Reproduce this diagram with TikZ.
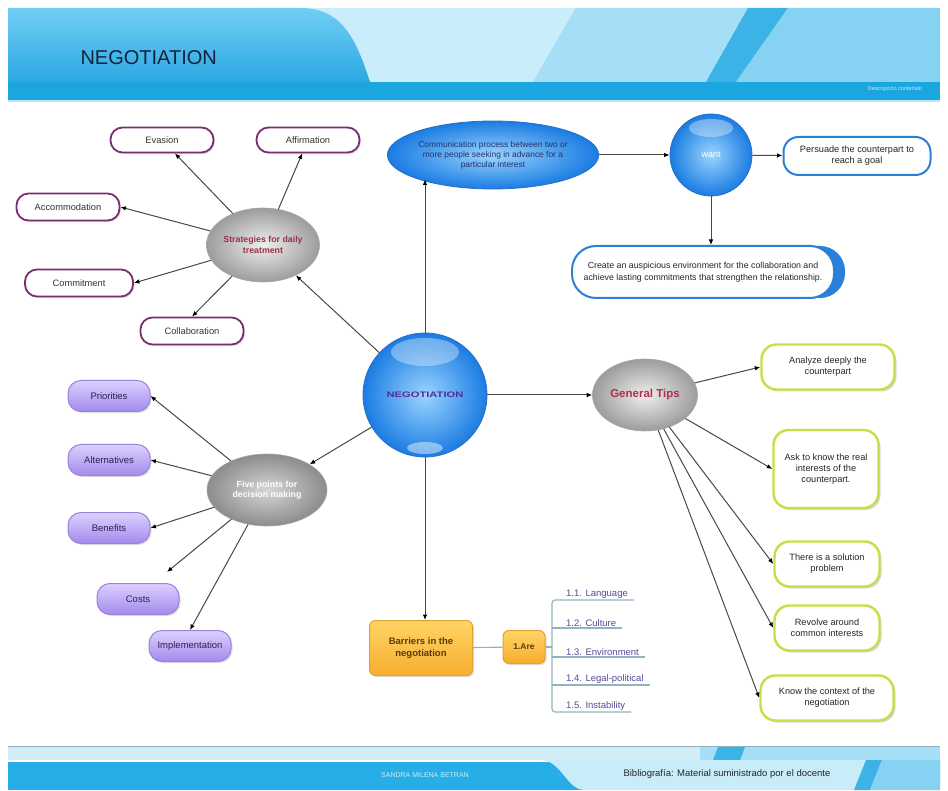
\documentclass[tikz,border=0pt]{standalone}
\usepackage{fontspec}
\usepackage{graphicx}
\setmainfont{Liberation Sans}
\usetikzlibrary{shapes.geometric,arrows.meta,shadows,calc}
\definecolor{hBase}{HTML}{8AD4F4}
\definecolor{hTabTop}{HTML}{72CEF4}
\definecolor{hTabBot}{HTML}{2AA8E2}
\definecolor{hLight}{HTML}{C9EDFA}
\definecolor{hMed}{HTML}{A5DEF6}
\definecolor{hStripe}{HTML}{3CB3E6}
\definecolor{hRight}{HTML}{86D2F3}
\definecolor{hStrip}{HTML}{1CA6E0}
\definecolor{titleC}{HTML}{14233F}
\definecolor{connC}{HTML}{484848}
\definecolor{leafP}{HTML}{7B2D72}
\definecolor{ballIn}{HTML}{9AD4FF}
\definecolor{ballOut}{HTML}{1A7CE2}
\definecolor{ballEdge}{HTML}{2A6FC8}
\definecolor{boxBlue}{HTML}{2A80D8}
\definecolor{grayIn}{HTML}{EFEFEF}
\definecolor{grayOut}{HTML}{9C9C9C}
\definecolor{grayIn2}{HTML}{D6D6D6}
\definecolor{grayOut2}{HTML}{8C8C8C}
\definecolor{stratTxt}{HTML}{9B3346}
\definecolor{tipsTxt}{HTML}{B0304E}
\definecolor{purTop}{HTML}{DCD0FF}
\definecolor{purBot}{HTML}{A38AEC}
\definecolor{purEdge}{HTML}{9A82DC}
\definecolor{purTxt}{HTML}{2A2250}
\definecolor{greenE}{HTML}{C6DF48}
\definecolor{orTop}{HTML}{FFD466}
\definecolor{orBot}{HTML}{F6AE2E}
\definecolor{orEdge}{HTML}{E2A232}
\definecolor{orTxt}{HTML}{5C3A0A}
\definecolor{branchC}{HTML}{8FB4C0}
\definecolor{itemTxt}{HTML}{5A4A9A}
\definecolor{fLight}{HTML}{D3ECF6}
\definecolor{fBlue}{HTML}{27AEE6}
\definecolor{fPanel}{HTML}{C9ECF9}
\definecolor{negTxt}{HTML}{5A2A9A}
\definecolor{commTxt}{HTML}{22336A}
\tikzset{
  conn/.style={draw=connC, line width=1pt, -{Latex[length=5.5pt,width=4.6pt,color=black]}},
  stratleaf/.style={rounded corners=12pt, draw=leafP, line width=1.8pt, fill=white,
    minimum width=103pt, minimum height=25pt, inner sep=1pt,
    font=\fontsize{9.3}{10}\selectfont, text=black!80,
    drop shadow={opacity=0.25, shadow xshift=1.5pt, shadow yshift=-1.5pt}},
  pleaf/.style={rounded corners=13pt, top color=purTop, bottom color=purBot, draw=purEdge,
    line width=1pt, minimum width=82pt, minimum height=31pt, inner sep=1pt,
    font=\fontsize{9.5}{10}\selectfont, text=purTxt,
    drop shadow={opacity=0.25, shadow xshift=1.5pt, shadow yshift=-1.5pt}},
  gleaf/.style={rounded corners=15pt, draw=greenE, line width=2.4pt, fill=white,
    minimum width=105pt, minimum height=45pt, inner sep=2pt, align=center,
    font=\fontsize{9.2}{11}\selectfont, text=black!85,
    drop shadow={opacity=0.3, shadow xshift=2pt, shadow yshift=-2pt}},
  ballnode/.style={circle, inner color=ballIn, outer color=ballOut, draw=ballEdge, line width=0.8pt},
  grayell/.style={ellipse, inner color=grayIn, outer color=grayOut, draw=gray!70, line width=0.6pt,
    align=center, inner sep=0pt},
  bluebox/.style={rounded corners=16pt, draw=boxBlue, line width=2pt, fill=white, align=center,
    font=\fontsize{9.2}{11}\selectfont, text=black!85},
  orbox/.style={rounded corners=6pt, top color=orTop, bottom color=orBot, draw=orEdge,
    line width=1pt, align=center, text=orTxt, font=\bfseries\fontsize{9.5}{12}\selectfont,
    drop shadow={opacity=0.25, shadow xshift=1.5pt, shadow yshift=-1.5pt}},
  branch/.style={draw=branchC, line width=1.1pt},
  itemtext/.style={font=\fontsize{9.5}{10}\selectfont, text=itemTxt, inner sep=1pt, anchor=south west}
}
\begin{document}
\begin{tikzpicture}[x=1pt,y=-1pt]
\useasboundingbox (0,0) rectangle (948,791);
\fill[white] (0,0) rectangle (948,791);
% ---------- header ----------
\fill[hBase] (8,8) rectangle (940,82);
\fill[hLight] (250,8) -- (576,8) -- (533,82) -- (250,82) -- cycle;
\fill[hMed] (576,8) -- (748,8) -- (706,82) -- (533,82) -- cycle;
\fill[hStripe] (748,8) -- (788,8) -- (736,82) -- (706,82) -- cycle;
\fill[hRight] (788,8) -- (940,8) -- (940,82) -- (736,82) -- cycle;
\shade[top color=hTabTop, bottom color=hTabBot] (8,8) -- (300,8) .. controls (340,8) and (355,35) .. (370,82) -- (8,82) -- cycle;
\fill[hStrip] (8,82) rectangle (940,100);
\fill[white!70!hStrip] (8,100) rectangle (940,102);
\node[anchor=west, font=\fontsize{20}{21}\selectfont, text=titleC] (title) at (77,58) {NEGOTIATION};
\node[font=\fontsize{5.5}{6}\selectfont, text=hLight] (desc) at (895,89) {Descripción contenido};
% ---------- footer ----------
\fill[fLight] (8,746) rectangle (940,760);
\draw[branchC, line width=0.8pt] (8,746) -- (940,746);
\fill[fBlue] (8,762) rectangle (940,790);
\fill[hMed] (700,747) rectangle (940,760);
\fill[hStripe] (718,747) -- (745,747) -- (740,760) -- (713,760) -- cycle;
\fill[fPanel] (540,760) .. controls (562,760) and (566,790) .. (585,790) -- (940,790) -- (940,760) -- cycle;
\fill[hStripe] (866,760) -- (882,760) -- (870,790) -- (854,790) -- cycle;
\fill[hRight] (882,760) -- (940,760) -- (940,790) -- (870,790) -- cycle;
\node[font=\fontsize{7}{8}\selectfont, text=hLight] (author) at (425,775) {SANDRA MILENA BETRAN};
\node[anchor=west, font=\fontsize{9.5}{10}\selectfont, text=black!85] (biblio) at (620,774) {Bibliografía: Material suministrado por el docente};
% ---------- central ----------
\node[ballnode, minimum size=124pt] (neg) at (425,395) {\scalebox{1.4}[1]{\bfseries\fontsize{8}{9}\selectfont\color{negTxt}NEGOTIATION}};
\fill[white, opacity=0.35] (425,352) ellipse (34pt and 14pt);
\fill[white, opacity=0.45] (425,448) ellipse (18pt and 6pt);
% ---------- top branch ----------
\node[ellipse, inner color=ballIn, outer color=ballOut, draw=ballEdge, line width=0.8pt,
  minimum width=176pt, minimum height=68pt, inner sep=0pt, align=center,
  font=\fontsize{8.4}{10}\selectfont, text=commTxt] (comm) at (493,155)
  {Communication process between two or\\ more people seeking in advance for a\\ particular interest};
\node[ballnode, minimum size=82pt, font=\fontsize{9}{10}\selectfont, text=white] (want) at (711,155) {want};
\fill[white, opacity=0.35] (711,128) ellipse (22pt and 9pt);
\node[bluebox, minimum width=147pt, minimum height=38pt, rounded corners=15pt] (pers) at (857,156)
  {Persuade the counterpart to\\ reach a goal};
\fill[boxBlue, rounded corners=25pt] (580,246) rectangle (845,298);
\node[bluebox, minimum width=262pt, minimum height=52pt, rounded corners=24pt,
  font=\fontsize{8.8}{12}\selectfont] (create) at (703,272)
  {Create an auspicious environment for the collaboration and\\ achieve lasting commitments that strengthen the relationship.};
% ---------- strategies ----------
\node[grayell, minimum width=113pt, minimum height=74pt, font=\bfseries\fontsize{8.8}{10.5}\selectfont, text=stratTxt]
  (strat) at (263,245) {Strategies for daily\\ treatment};
\node[stratleaf] (evas) at (162,140) {Evasion};
\node[stratleaf] (affi) at (308,140) {Affirmation};
\node[stratleaf, minimum height=27pt] (acco) at (68,207) {Accommodation};
\node[stratleaf, minimum width=108pt, minimum height=27pt] (comt) at (79,283) {Commitment};
\node[stratleaf, minimum height=27pt] (coll) at (192,331) {Collaboration};
% ---------- five points ----------
\node[grayell, inner color=grayIn2, outer color=grayOut2, minimum width=120pt, minimum height=72pt,
  font=\bfseries\fontsize{8.8}{10.5}\selectfont, text=white] (five) at (267,490) {Five points for\\ decision making};
\node[pleaf] (prio) at (109,396) {Priorities};
\node[pleaf] (alte) at (109,460) {Alternatives};
\node[pleaf] (bene) at (109,528) {Benefits};
\node[pleaf] (cost) at (138,599) {Costs};
\node[pleaf] (impl) at (190,646) {Implementation};
\coordinate (costend) at (167,572);
% ---------- general tips ----------
\node[grayell, minimum width=105pt, minimum height=72pt, font=\bfseries\fontsize{11.5}{12}\selectfont, text=tipsTxt]
  (tips) at (645,395) {General Tips};
\node[gleaf, minimum width=133pt] (anal) at (828,367) {Analyze deeply the\\ counterpart};
\node[gleaf, minimum height=78pt] (ask) at (826,469) {Ask to know the real\\ interests of the\\ counterpart.};
\node[gleaf] (there) at (827,564) {There is a solution\\ problem};
\node[gleaf] (revo) at (827,628) {Revolve around\\ common interests};
\node[gleaf, minimum width=133pt] (know) at (827,698) {Know the context of the\\ negotiation};
% ---------- barriers ----------
\node[orbox, minimum width=103pt, minimum height=55pt] (barr) at (421,648) {Barriers in the\\ negotiation};
\node[orbox, minimum width=42pt, minimum height=33pt, inner sep=1pt, font=\bfseries\fontsize{8.5}{10}\selectfont] (are) at (524,647) {1.Are};
\node[itemtext] (i1) at (565,600) {1.1. Language};
\node[itemtext] (i2) at (565,628) {1.2. Culture};
\node[itemtext] (i3) at (565,657) {1.3. Environment};
\node[itemtext] (i4) at (565,685) {1.4. Legal-political};
\node[itemtext] (i5) at (565,712) {1.5. Instability};
\coordinate (spine) at (552,647);
\draw[branch] (barr) -- (are);
\draw[branch] (are.east) -- (spine);
\draw[branch, rounded corners=3pt] ($(i1.south east)+(5,0)$) -- (spine |- i1.south) -- (spine |- i5.south) -- ($(i5.south east)+(5,0)$);
\foreach \n in {i2,i3,i4}{\draw[branch] (spine |- \n.south) -- ($(\n.south east)+(5,0)$);}
% ---------- connectors ----------
\draw[conn] (neg.north) -- ($(comm.south -| neg.north)+(0,-10)$);
\draw[conn] (comm) -- (want);
\draw[conn] (want) -- (pers);
\draw[conn] (want.south) -- (want.south |- create.north);
\draw[conn] (neg) -- (strat);
\draw[conn] (strat) -- (evas);
\draw[conn] (strat) -- (affi);
\draw[conn] (strat) -- (acco.east);
\draw[conn] (strat) -- (comt.east);
\draw[conn] (strat) -- (coll.north);
\draw[conn] (neg) -- (five);
\draw[conn] (five) -- (prio.east);
\draw[conn] (five) -- (alte.east);
\draw[conn] (five) -- (bene.east);
\draw[conn] (five) -- (costend);
\draw[conn] (five) -- (impl.north);
\draw[conn] (neg) -- (tips);
\draw[conn] (tips) -- (anal.west);
\draw[conn] (tips) -- (ask.west);
\draw[conn] (tips) -- (there.west);
\draw[conn] (tips) -- (revo.west);
\draw[conn] (tips) -- (know.west);
\draw[conn] (neg.south) -- (neg.south |- barr.north);
\end{tikzpicture}
\end{document}
